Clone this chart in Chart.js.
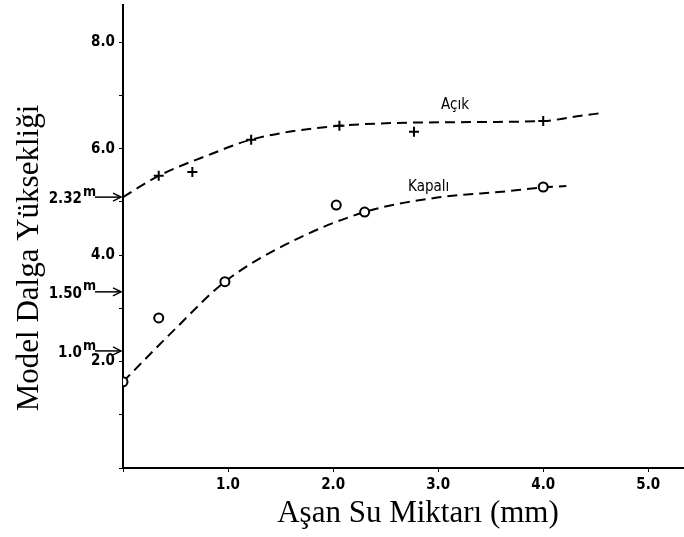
<!DOCTYPE html>
<html>
<head>
<meta charset="utf-8">
<script src="https://cdn.jsdelivr.net/npm/chart.js@4"></script>
<style>
  html, body { margin: 0; padding: 0; background: #fff; }
  canvas { display: block; }
</style>
</head>
<body>
<canvas id="chart" width="684" height="537"></canvas>
<script>
var acikX = [0.34, 0.66, 1.22, 2.06, 2.77, 4.0];
var acikY = [5.49, 5.56, 6.17, 6.43, 6.32, 6.52];
var kapaliX = [0, 0.34, 0.97, 2.03, 2.30, 4.0];
var kapaliY = [1.62, 2.82, 3.50, 4.94, 4.81, 5.28];

// dashed fit lines as drawn in the figure
var acikFitX = [0, 0.34, 0.84, 1.22, 2.06, 3.3, 4.0, 4.36, 4.56];
var acikFitY = [5.09, 5.49, 5.90, 6.17, 6.43, 6.50, 6.52, 6.62, 6.67];
var kapaliFitX = [0, 0.49, 0.97, 1.55, 2.3, 2.95, 3.65, 4.0, 4.22];
var kapaliFitY = [1.62, 2.60, 3.50, 4.20, 4.81, 5.07, 5.20, 5.27, 5.30];

// tick values
var xTicks = [0, 1, 2, 3, 4, 5];
var yTicks = [0, 1, 2, 3, 4, 5, 6, 7, 8];

// prototype heights marked with arrows on the y axis
var protoLabels = ['2.32', '1.50', '1.0'];
var protoLevels = [5.09, 3.31, 2.20];

var xTitle = 'Aşan Su Miktarı (mm)';
var yTitle = 'Model Dalga Yüksekliği';

function pts(xs, ys) {
  return xs.map(function(x, i) { return {x: x, y: ys[i]}; });
}

var narrow = "'Liberation Sans Narrow', 'DejaVu Sans Condensed', sans-serif";
var serif = "'Liberation Serif', 'DejaVu Serif', serif";

var extras = {
  id: 'extras',
  afterDraw: function(chart) {
    var ctx = chart.ctx, xs = chart.scales.x, ys = chart.scales.y;
    ctx.save();
    ctx.fillStyle = '#000';
    ctx.strokeStyle = '#000';

    // arrows + prototype heights
    protoLevels.forEach(function(v, i) {
      var y = ys.getPixelForValue(v);
      var x1 = xs.left - 2;
      ctx.lineWidth = 1.5;
      ctx.beginPath(); ctx.moveTo(95, y); ctx.lineTo(x1, y); ctx.stroke();
      ctx.beginPath();
      ctx.moveTo(x1 - 8, y - 4); ctx.lineTo(x1, y); ctx.lineTo(x1 - 8, y + 4);
      ctx.stroke();
      ctx.textBaseline = 'middle';
      ctx.font = 'bold 15px ' + narrow;
      ctx.textAlign = 'right';
      ctx.fillText(protoLabels[i], 82, y + 2);
      ctx.font = 'bold 14px ' + narrow;
      ctx.textAlign = 'left';
      ctx.fillText('m', 83, y - 5);
    });

    // curve names
    ctx.font = '15px ' + narrow;
    ctx.textAlign = 'center';
    ctx.textBaseline = 'middle';
    ctx.fillText('Açık', xs.getPixelForValue(3.16), ys.getPixelForValue(6.82));
    ctx.fillText('Kapalı', xs.getPixelForValue(2.91), ys.getPixelForValue(5.28));

    // axis titles
    ctx.font = '31px ' + serif;
    ctx.fillText(xTitle, 418, 514);
    ctx.translate(30, 258);
    ctx.rotate(-Math.PI / 2);
    ctx.fillText(yTitle, 0, 0);
    ctx.restore();
  }
};

var ctx = document.getElementById('chart').getContext('2d');
var chart = new Chart(ctx, {
  type: 'scatter',
  data: {
    datasets: [
      {
        label: 'Açık',
        data: pts(acikX, acikY),
        pointStyle: 'cross',
        pointRadius: 5,
        borderWidth: 2,
        borderColor: '#000',
        backgroundColor: '#000'
      },
      {
        label: 'Kapalı',
        data: pts(kapaliX, kapaliY),
        pointStyle: 'circle',
        pointRadius: 4.5,
        borderWidth: 2,
        borderColor: '#000',
        backgroundColor: '#fff'
      },
      {
        label: 'Kapalı dot',
        data: pts(kapaliX, kapaliY),
        pointStyle: 'circle',
        pointRadius: 1,
        borderWidth: 0,
        backgroundColor: '#000'
      },
      {
        label: 'Açık fit',
        data: pts(acikFitX, acikFitY),
        showLine: true,
        pointRadius: 0,
        borderColor: '#000',
        borderWidth: 2,
        borderDash: [10, 6],
        cubicInterpolationMode: 'monotone'
      },
      {
        label: 'Kapalı fit',
        data: pts(kapaliFitX, kapaliFitY),
        showLine: true,
        pointRadius: 0,
        borderColor: '#000',
        borderWidth: 2,
        borderDash: [10, 6],
        cubicInterpolationMode: 'monotone'
      }
    ]
  },
  options: {
    responsive: false,
    animation: false,
    layout: { autoPadding: false, padding: { top: 5, left: 0, right: 0, bottom: 0 } },
    plugins: {
      legend: { display: false },
      tooltip: { enabled: false }
    },
    scales: {
      x: {
        type: 'linear',
        min: 0,
        max: 5.34,
        afterBuildTicks: function(s) {
          s.ticks = xTicks.map(function(v) { return {value: v}; });
        },
        afterFit: function(s) {
          s.height = 69;
          s.paddingLeft = 0;
          s.paddingRight = 0;
        },
        ticks: {
          autoSkip: false,
          padding: 4,
          color: '#000',
          font: { family: narrow, size: 15, weight: 'bold' },
          callback: function(v) { return v === 0 ? '' : v.toFixed(1); }
        },
        grid: { drawOnChartArea: false, tickLength: 4, color: '#000' },
        border: { color: '#000', width: 2 }
      },
      y: {
        min: 0,
        max: 8.7,
        afterBuildTicks: function(s) {
          s.ticks = yTicks.map(function(v) { return {value: v}; });
        },
        afterFit: function(s) {
          s.width = 123;
          s.paddingTop = 0;
          s.paddingBottom = 0;
        },
        ticks: {
          autoSkip: false,
          padding: 4,
          color: '#000',
          font: { family: narrow, size: 15, weight: 'bold' },
          callback: function(v) { return (v > 0 && v % 2 === 0) ? v.toFixed(1) : ''; }
        },
        grid: { drawOnChartArea: false, tickLength: 4, color: '#000' },
        border: { color: '#000', width: 2 }
      }
    }
  },
  plugins: [extras]
});
</script>
</body>
</html>
